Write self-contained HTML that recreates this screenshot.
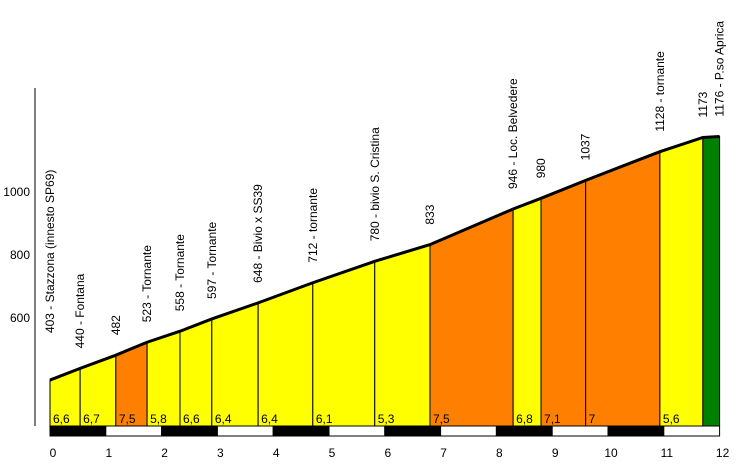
<!DOCTYPE html>
<html><head><meta charset="utf-8"><style>
body{margin:0;background:#fff}
svg text{font-family:"Liberation Sans",sans-serif;font-size:12px;fill:#000}
</style></head><body>
<svg id="c" width="750" height="471" xmlns="http://www.w3.org/2000/svg"></svg>
<script>
const kms=[0,0.54,1.18,1.74,2.33,2.9,3.73,4.71,5.82,6.81,8.3,8.8,9.6,10.93,11.7,12.0];
const elevs=[403,440,482,523,558,597,648,712,780,833,946,980,1037,1128,1173,1176];
const names=["403 - Stazzona (innesto SP69)","440 - Fontana","482","523 - Tornante","558 - Tornante","597 - Tornante","648 - Bivio x SS39","712 - tornante","780 - bivio S. Cristina","833","946 - Loc. Belvedere","980","1037","1128 - tornante","1173","1176 - P.so Aprica"];
const grades=["6,6","6,7","7,5","5,8","6,6","6,4","6,4","6,1","5,3","7,5","6,8","7,1","7","5,6",""];
const colors=["#ffff00","#ffff00","#ff8000","#ffff00","#ffff00","#ffff00","#ffff00","#ffff00","#ffff00","#ff8000","#ffff00","#ff8000","#ff8000","#ffff00","#008000"];
const yTicks=[600,800,1000];
const xTicks=[0,1,2,3,4,5,6,7,8,9,10,11,12];
const X=k=>50+55.8*k, Y=e=>192+(1000-e)*0.315, BASE=426;
const s=document.getElementById('c'),NS="http://www.w3.org/2000/svg";
function el(t,a,txt){const e=document.createElementNS(NS,t);for(const k in a)e.setAttribute(k,a[k]);if(txt!==undefined)e.textContent=txt;s.appendChild(e);return e;}
for(let i=0;i<kms.length-1;i++){
 const x1=X(kms[i]),x2=X(kms[i+1]);
 const p=el('polygon',{points:`${x1},${BASE} ${x1},${Y(elevs[i])} ${x2},${Y(elevs[i+1])} ${x2},${BASE}`,fill:colors[i],stroke:'#000','stroke-width':1});
 
 
 const g=el('text',{x:x1+3,y:423},grades[i]);
 
 
}
const pl=el('polyline',{points:kms.map((k,i)=>X(k)+','+Y(elevs[i])).join(' '),fill:'none',stroke:'#000','stroke-width':3});


for(let i=0;i<kms.length;i++){
 let off=20; if(i==0)off=47;
 const bx=X(kms[i])+4,by=Y(elevs[i])-off;
 const t=el('text',{x:bx,y:by,transform:`rotate(-90 ${bx} ${by})`},names[i]);
 
 
}
for(let k=0;k<12;k++){
 const r=el('rect',{x:X(k),y:BASE,width:55.8,height:10,fill:k%2?'#fff':'#000',stroke:'#000','stroke-width':1});
 
 
}
xTicks.forEach(k=>{const t=el('text',{x:X(k)+3,y:457,'text-anchor':'middle'},String(k));
 
 });
const ax=el('line',{x1:35,y1:88,x2:35,y2:426,stroke:'#000','stroke-width':1});


yTicks.forEach(v=>{const t=el('text',{x:30,y:Y(v)+4,'text-anchor':'end'},String(v));
 
 });
</script>
</body></html>
